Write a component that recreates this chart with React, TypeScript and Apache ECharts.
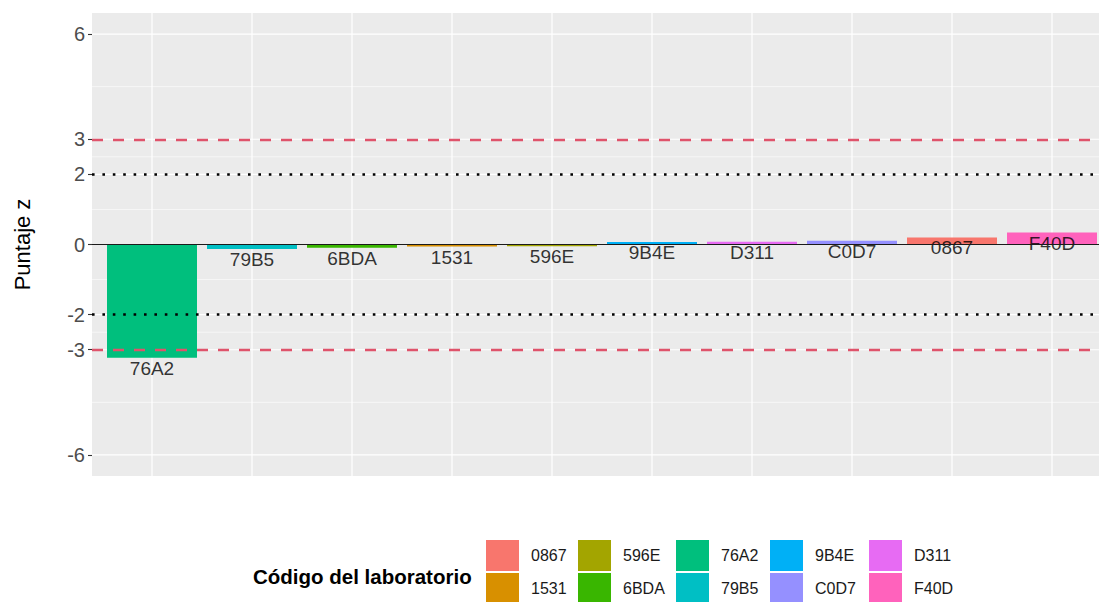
import React, { useEffect, useRef } from "react";
import * as echarts from "echarts";

// Bars, in plotting order (sorted by z score)
const labCodes = ["76A2", "79B5", "6BDA", "1531", "596E", "9B4E", "D311", "C0D7", "0867", "F40D"];
const zScores = [-3.23, -0.13, -0.09, -0.06, -0.05, 0.07, 0.08, 0.11, 0.2, 0.34];

// Legend (factor level order) and hue palette
const legendOrder = ["0867", "1531", "596E", "6BDA", "76A2", "79B5", "9B4E", "C0D7", "D311", "F40D"];
const labColors = ["#F8766D", "#D89000", "#A3A500", "#39B600", "#00BF7D", "#00BFC4", "#00B0F6", "#9590FF", "#E76BF3", "#FF62BC"];

// Axis
const yTicks = [-6, -3, -2, 0, 2, 3, 6];
const yMinorGrid = [-4.5, -2.5, -1, 1, 2.5, 4.5];
const actionLimits = [3, -3];
const warningLimits = [2, -2];

const FONT = "'Liberation Sans', Arial, Helvetica, sans-serif";
const legendLefts = [486, 578, 676, 770, 869];

export default function App() {
  const ref = useRef<HTMLDivElement>(null);

  useEffect(() => {
    if (!ref.current) return;
    const chart = echarts.init(ref.current, undefined, { renderer: "svg" });

    const barSeries = legendOrder.map((code, k) => {
      const idx = labCodes.indexOf(code);
      return {
        type: "bar",
        name: code,
        data: [[idx, zScores[idx]]],
        barWidth: 90,
        barGap: "-100%",
        itemStyle: { color: labColors[k] },
        z: 2,
        silent: true,
      };
    });

    const legendCols: string[][] = [];
    for (let i = 0; i < legendOrder.length; i += 2) legendCols.push(legendOrder.slice(i, i + 2));

    const option: any = {
      animation: false,
      textStyle: { fontFamily: FONT },
      title: {
        text: "Código del laboratorio",
        left: 253,
        top: 566,
        padding: 0,
        textStyle: { fontSize: 20.5, fontWeight: "bold", color: "#000", fontFamily: FONT },
      },
      legend: legendCols.map((col, i) => ({
        orient: "vertical",
        left: legendLefts[i],
        top: 540,
        height: 120,
        padding: 0,
        itemWidth: 33,
        itemHeight: 31,
        itemGap: 2,
        icon: "rect",
        selectedMode: false,
        data: col,
        textStyle: { fontSize: 16, color: "#1a1a1a", fontFamily: FONT, padding: [0, 0, 0, 7] },
      })),
      grid: {
        left: 92,
        right: -13,
        top: 13,
        bottom: 126,
        outerBoundsMode: "none",
        containLabel: false,
        show: true,
        backgroundColor: "#EBEBEB",
        borderWidth: 0,
      },
      xAxis: {
        type: "value",
        min: -0.6,
        max: labCodes.length - 1 + 0.6,
        axisLine: { show: false },
        axisTick: { show: false },
        axisLabel: { show: false },
        splitLine: { show: false },
      },
      yAxis: {
        type: "value",
        min: -6.6,
        max: 6.6,
        axisLine: { show: false, onZero: false },
        axisTick: { show: true, length: 4, customValues: yTicks, lineStyle: { color: "#333", width: 1.1 } },
        axisLabel: { customValues: yTicks, color: "#4D4D4D", fontSize: 20, margin: 7, fontFamily: FONT },
        splitLine: { show: false },
        name: "Puntaje z",
        nameLocation: "middle",
        nameRotate: 90,
        nameGap: 59,
        nameTextStyle: { fontSize: 22, color: "#000", fontFamily: FONT },
      },
      series: [
        {
          type: "custom",
          name: "hgrid",
          silent: true,
          z: 1,
          data: [...yTicks.map((v) => [0, v, 1]), ...yMinorGrid.map((v) => [0, v, 0])],
          renderItem: (params: any, api: any) => {
            const y = api.coord([0, api.value(1)])[1];
            const cs = params.coordSys;
            return {
              type: "line",
              shape: { x1: cs.x, y1: y, x2: cs.x + cs.width, y2: y },
              style: { stroke: "#FFFFFF", lineWidth: api.value(2) ? 1.2 : 0.6 },
            };
          },
        },
        {
          type: "custom",
          name: "vgrid",
          silent: true,
          z: 1,
          data: labCodes.map((_, i) => [i, 0]),
          renderItem: (params: any, api: any) => {
            const x = api.coord([api.value(0), 0])[0];
            const cs = params.coordSys;
            return {
              type: "line",
              shape: { x1: x, y1: cs.y, x2: x, y2: cs.y + cs.height },
              style: { stroke: "#FFFFFF", lineWidth: 1.2 },
            };
          },
        },
        ...barSeries,
        {
          type: "scatter",
          name: "labels",
          silent: true,
          z: 4,
          symbolSize: 0,
          data: labCodes.map((c, i) => [i, zScores[i]]),
          label: {
            show: true,
            position: "bottom",
            distance: 1,
            fontSize: 19,
            color: "#000",
            fontFamily: FONT,
            formatter: (p: any) => labCodes[p.dataIndex],
          },
          markLine: {
            silent: true,
            symbol: ["none", "none"],
            label: { show: false },
            data: [
              ...actionLimits.map((v) => ({
                yAxis: v,
                lineStyle: { color: "#DF536B", width: 2.3, type: [11, 10] },
              })),
              ...warningLimits.map((v) => ({
                yAxis: v,
                lineStyle: { color: "#000", width: 2.6, type: [2.6, 7.8] },
              })),
              { yAxis: 0, lineStyle: { color: "#1a1a1a", width: 1.2, type: "solid" } },
            ],
          },
        },
      ],
    };

    chart.setOption(option);
    return () => chart.dispose();
  }, []);

  return (
    <div
      ref={ref}
      style={{ position: "fixed", left: 0, top: 0, width: 1099, height: 602, background: "#fff" }}
    />
  );
}
